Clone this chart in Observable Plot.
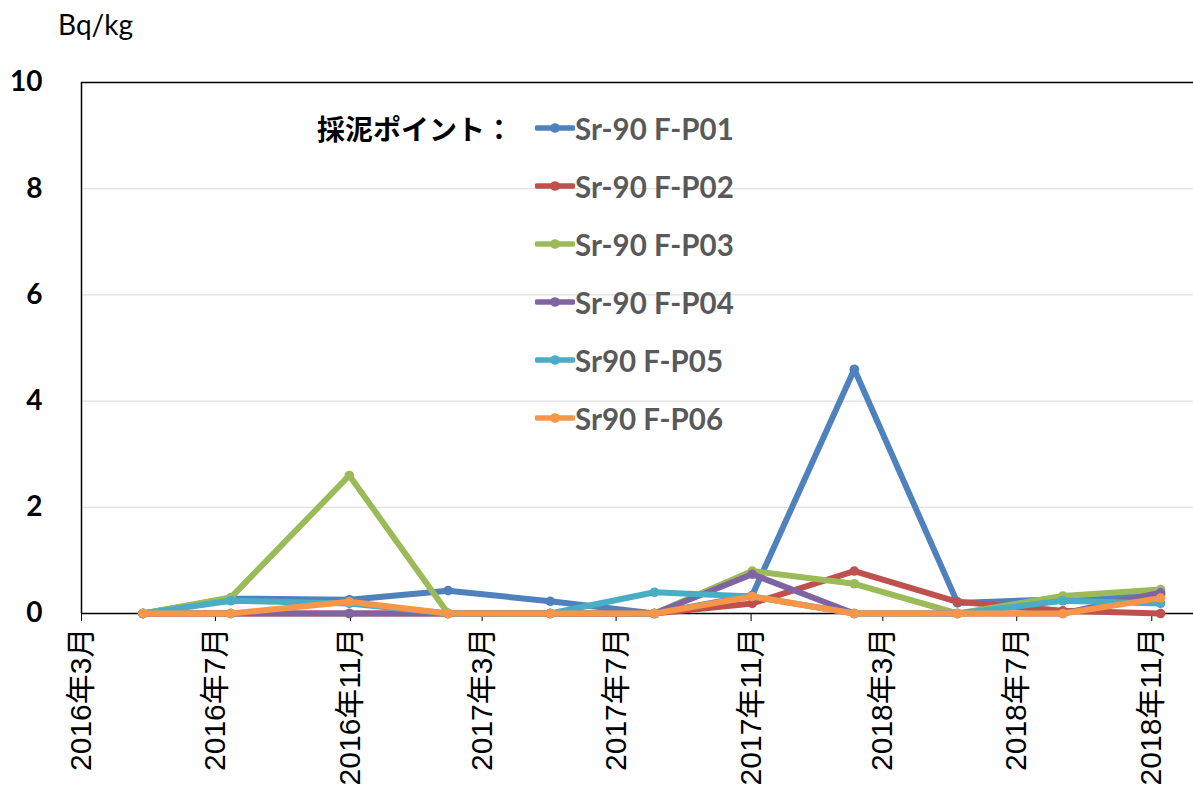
<!DOCTYPE html>
<html><head><meta charset="utf-8">
<script src="https://cdn.jsdelivr.net/npm/d3@7"></script>
<script src="https://cdn.jsdelivr.net/npm/@observablehq/plot@0.6"></script>
<style>
body{margin:0;background:#fff;}
#wrap{position:relative;width:1193px;height:785px;overflow:hidden;}
#unit{position:absolute;left:58px;top:7px;font:28px Lato,sans-serif;color:#000;}
#legtitle{position:absolute;left:317px;top:110px;font:bold 28px "Noto Sans CJK JP",sans-serif;color:#000;line-height:36px;}
#legend{position:absolute;left:535px;top:99px;}
.row{height:58px;line-height:58px;display:flex;align-items:center;font:bold 29.5px Lato,sans-serif;color:#595959;white-space:nowrap;}
#chart{position:absolute;left:0;top:0;}
</style></head>
<body>
<div id="wrap"><div id="chart"></div><div id="unit">Bq/kg</div><div id="legtitle">採泥ポイント：</div><div id="legend"></div></div>
<script>
const dates = ["2016-04-26","2016-07-15","2016-10-31","2017-01-29","2017-05-02","2017-08-05","2017-11-02","2018-02-03","2018-05-08","2018-08-12","2018-11-09"];
const seriesNames = ["Sr-90 F-P01","Sr-90 F-P02","Sr-90 F-P03","Sr-90 F-P04","Sr90 F-P05","Sr90 F-P06"];
const p01 = [0,0.28,0.26,0.43,0.23,0,0.34,4.6,0.2,0.27,0.36];
const p02 = [0,0,0,0,0,0,0.19,0.8,0.22,0.05,0];
const p03 = [0,0.3,2.6,0,0,0,0.8,0.56,0,0.33,0.45];
const p04 = [0,0,0,0,0,0,0.74,0,0,0,0.39];
const p05 = [0,0.24,0.19,0,0,0.4,0.32,0,0,0.24,0.19];
const p06 = [0,0,0.22,0,0,0,0.32,0,0,0,0.29];
const colors = ["#4F81BD","#C0504D","#9BBB59","#8064A2","#4BACC6","#F79646"];
const xTicks = ["2016-03-01","2016-07-01","2016-11-01","2017-03-01","2017-07-01","2017-11-01","2018-03-01","2018-07-01","2018-11-01"];
const xDomain = ["2016-03-01","2018-12-09"];
const yTicks = [0,2,4,6,8,10];
const gridTicks = [2,4,6,8];

const values = [p01,p02,p03,p04,p05,p06];
const rows = [];
values.forEach((arr,si)=>arr.forEach((v,i)=>rows.push({series:seriesNames[si], date:new Date(dates[i]), value:v})));

const marks = [
  Plot.gridY(gridTicks,{stroke:"#d9d9d9",strokeOpacity:1,strokeWidth:1}),
  Plot.ruleY([10],{stroke:"#000",strokeWidth:1.5}),
  Plot.ruleX([new Date(xDomain[0])],{stroke:"#000",strokeWidth:1.5}),
  Plot.ruleY([0],{stroke:"#000",strokeWidth:1.5}),
  Plot.axisX(xTicks.map(d=>new Date(d)),{tickSize:8,tickRotate:-90,tickPadding:6,
    tickFormat:d=>`${d.getUTCFullYear()}年${d.getUTCMonth()+1}月`,
    fontSize:30,fontFamily:'"Liberation Sans","Noto Sans CJK JP",sans-serif',fill:"#000",label:null}),
  Plot.axisY(yTicks,{tickSize:0,tickPadding:39,tickFormat:d=>String(d),fontSize:28,fontWeight:"bold",fontFamily:"Lato,sans-serif",fill:"#000",label:null})
];
seriesNames.forEach((name,si)=>{
  const data = rows.filter(r=>r.series===name);
  marks.push(Plot.line(data,{x:"date",y:"value",stroke:colors[si],strokeWidth:6,strokeLinejoin:"round"}));
  marks.push(Plot.dot(data,{x:"date",y:"value",r:4.8,fill:colors[si],stroke:"none"}));
});

const chart = Plot.plot({
  width:1193,height:785,
  marginLeft:81,marginRight:0,marginTop:82,marginBottom:172,
  x:{type:"utc",domain:xDomain.map(d=>new Date(d))},
  y:{domain:[0,10]},
  style:{background:"#fff",overflow:"visible"},
  marks
});
document.getElementById("chart").appendChild(chart);

const leg = document.getElementById("legend");
seriesNames.forEach((name,si)=>{
  const row = document.createElement("div");
  row.className="row";
  row.innerHTML = `<svg width="40" height="12"><line x1="2" x2="38" y1="6" y2="6" stroke="${colors[si]}" stroke-width="5.5" stroke-linecap="round"/><circle cx="20" cy="6" r="4.8" fill="${colors[si]}"/></svg><span>${name}</span>`;
  leg.appendChild(row);
});
</script>
</body></html>
